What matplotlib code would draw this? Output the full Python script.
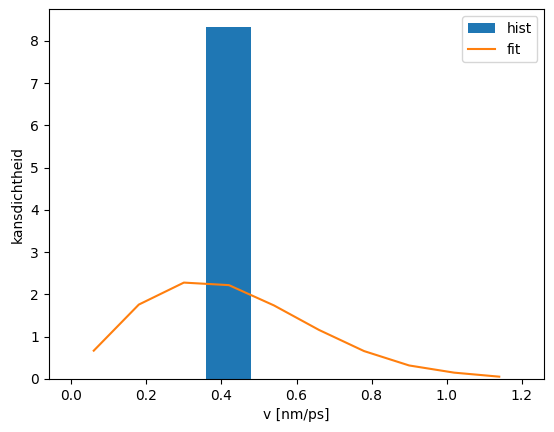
import numpy as np
import matplotlib
matplotlib.use('Agg')
import matplotlib.pyplot as plt

# histogram of speeds (density per bin), 10 bins on 0..1.2
bin_edges = [0.0, 0.12, 0.24, 0.36, 0.48, 0.60, 0.72, 0.84, 0.96, 1.08, 1.20]
hist_density = [0, 0, 0, 8.333, 0, 0, 0, 0, 0, 0]

# fitted distribution at bin centres
v_fit = [0.06, 0.18, 0.30, 0.42, 0.54, 0.66, 0.78, 0.90, 1.02, 1.14]
p_fit = [0.67, 1.76, 2.28, 2.22, 1.74, 1.16, 0.66, 0.32, 0.15, 0.055]

fig = plt.figure(figsize=(5.54, 4.32), dpi=100)
fig.subplots_adjust(left=0.0879, right=0.9825, top=0.979, bottom=0.1227)
ax = fig.add_subplot(111)

n, b, patches = ax.hist(bin_edges[:-1], bins=bin_edges, weights=hist_density, label='hist')
line, = ax.plot(v_fit, p_fit, color='C1', label='fit')

ax.set_xlabel('v [nm/ps]')
ax.set_ylabel('kansdichtheid')
ax.legend([patches[0], line], ['hist', 'fit'])

plt.savefig('out.png')
